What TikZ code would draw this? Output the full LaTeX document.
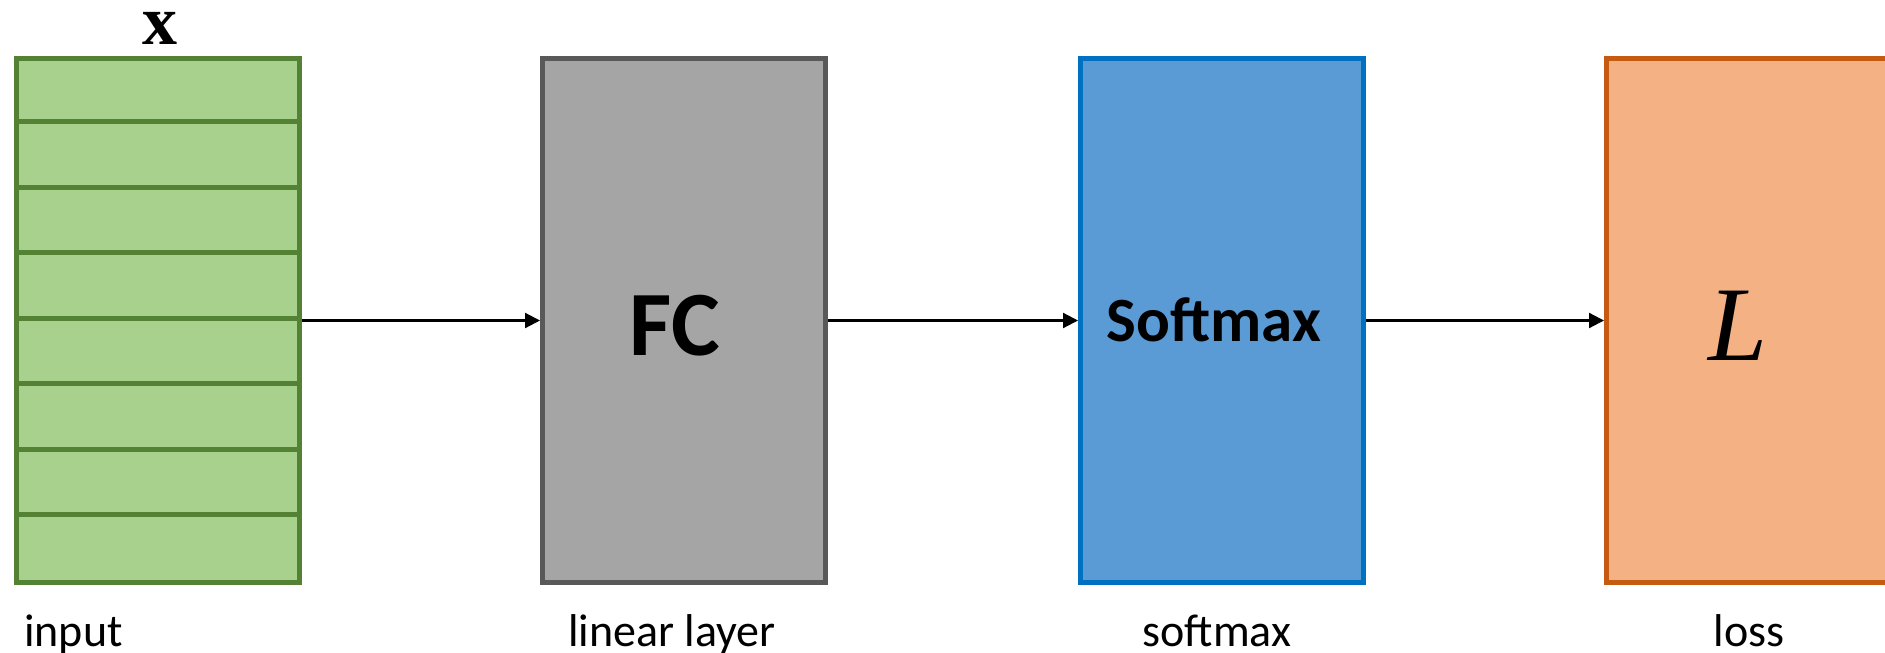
\documentclass[tikz,border=0pt]{standalone}
\usepackage{fontspec}
\setmainfont{Carlito}
\newfontfamily\xserif{Liberation Serif}
\usetikzlibrary{arrows.meta}

\definecolor{inFill}{HTML}{A9D18E}
\definecolor{inLine}{HTML}{548235}
\definecolor{fcFill}{HTML}{A5A5A5}
\definecolor{fcLine}{HTML}{595959}
\definecolor{smFill}{HTML}{5B9BD5}
\definecolor{smLine}{HTML}{0070C0}
\definecolor{lossFill}{HTML}{F4B183}
\definecolor{lossLine}{HTML}{C55A11}

\tikzset{
  block/.style={rectangle, line width=5pt, minimum width=283pt, minimum height=524pt, inner sep=0pt},
  flow/.style={line width=2.2pt, -{Triangle[length=15pt,width=15pt]}},
  caption/.style={anchor=base, inner sep=0pt, font=\fontsize{46}{50}\selectfont},
}

\begin{document}
\begin{tikzpicture}[x=1pt,y=-1pt]
  \useasboundingbox (0,0) rectangle (1885,653);
  \clip (0,0) rectangle (1885,653);

  % processing blocks
  \node[block, draw=inLine, fill=inFill] (input) at (158,320.5) {};
  \node[block, draw=fcLine, fill=fcFill] (fc) at (684,320.5) {};
  \node[block, draw=smLine, fill=smFill] (sm) at (1222,320.5) {};
  \node[block, draw=lossLine, fill=lossFill] (loss) at (1748,320.5) {};

  % input vector split into eight entries
  \foreach \k in {1,...,7}
    \draw[inLine, line width=5pt] ([yshift=-65.5*\k pt]input.north west) -- ([yshift=-65.5*\k pt]input.north east);

  % data flow
  \draw[flow] (input.east) -- (fc.west);
  \draw[flow] (fc.east) -- (sm.west);
  \draw[flow] (sm.east) -- (loss.west);

  % labels inside and above the blocks
  \node[anchor=base, inner sep=0pt, font=\xserif\bfseries\fontsize{70}{70}\selectfont] (xlab) at (160,44) {x};
  \node[anchor=base, inner sep=0pt, font=\bfseries\fontsize{92}{92}\selectfont] (fclab) at (675,355) {FC};
  \node[anchor=base, inner sep=0pt, font=\bfseries\fontsize{63}{63}\selectfont] (smlab) at (1214,341) {Softmax};
  \node[anchor=base, inner sep=0pt, font=\xserif\itshape\fontsize{106}{106}\selectfont] (llab) at (1738,360) {L};

  % captions below the blocks
  \node[caption, anchor=base west] (capin) at (24,646) {input};
  \node[caption] (capfc) at (672,646) {linear layer};
  \node[caption] (capsm) at (1217,646) {softmax};
  \node[caption] (caploss) at (1749,646) {loss};
\end{tikzpicture}
\end{document}
